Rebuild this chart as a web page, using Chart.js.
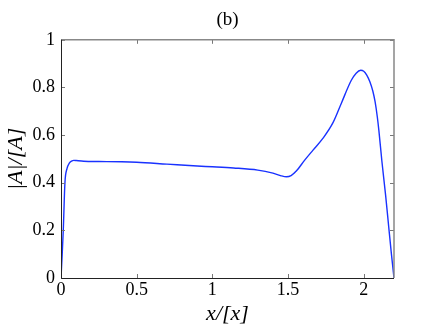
<!DOCTYPE html>
<html>
<head>
<meta charset="utf-8">
<script src="https://cdn.jsdelivr.net/npm/chart.js@4.4.1/dist/chart.umd.min.js"></script>
<style>
html,body{margin:0;padding:0;background:#fff;}
#wrap{width:436px;height:328px;position:relative;}
</style>
</head>
<body>
<div id="wrap"><canvas id="c" width="436" height="328"></canvas></div>
<script>
const xValues = [0, 0.008, 0.015, 0.026, 0.04, 0.055, 0.07, 0.085, 0.1, 0.15, 0.25, 0.4, 0.5, 0.7, 0.9, 1.0, 1.14, 1.3, 1.4, 1.45, 1.49, 1.52, 1.556, 1.61, 1.665, 1.73, 1.797, 1.853, 1.918, 1.95, 1.98, 2.0, 2.02, 2.04, 2.06, 2.075, 2.09, 2.1, 2.12, 2.145, 2.165, 2.183, 2.2];
const yValues = [0, 0.1, 0.2, 0.4, 0.46, 0.482, 0.491, 0.494, 0.493, 0.49, 0.489, 0.488, 0.486, 0.478, 0.47, 0.467, 0.462, 0.453, 0.44, 0.43, 0.425, 0.43, 0.45, 0.495, 0.537, 0.586, 0.652, 0.735, 0.83, 0.86, 0.872, 0.868, 0.852, 0.825, 0.785, 0.74, 0.675, 0.62, 0.49, 0.345, 0.215, 0.1, 0];
const xTicks = [0, 0.5, 1, 1.5, 2];
const yTicks = [0, 0.2, 0.4, 0.6, 0.8, 1];
const titleText = '(b)';
const xLabel = 'x/[x]';
const yLabel = '|A|/[A]';

const points = xValues.map((x, i) => ({x: x, y: yValues[i]}));

const boxPlugin = {
  id: 'box',
  afterDraw(chart) {
    const ctx = chart.ctx;
    const a = chart.chartArea;
    const xs = chart.scales.x, ys = chart.scales.y;
    ctx.save();
    ctx.lineWidth = 1;
    ctx.strokeStyle = '#777';
    const L = 4;
    xTicks.forEach(v => {
      const px = Math.round(xs.getPixelForValue(v)) + 0.5;
      ctx.beginPath();
      ctx.moveTo(px, a.bottom); ctx.lineTo(px, a.bottom - L);
      ctx.moveTo(px, a.top); ctx.lineTo(px, a.top + L);
      ctx.stroke();
    });
    yTicks.forEach(v => {
      const py = Math.round(ys.getPixelForValue(v)) + 0.5;
      ctx.beginPath();
      ctx.moveTo(a.left, py); ctx.lineTo(a.left + L, py);
      ctx.moveTo(a.right, py); ctx.lineTo(a.right - L, py);
      ctx.stroke();
    });
    ctx.strokeStyle = '#888';
    ctx.lineWidth = 1.5;
    ctx.beginPath();
    ctx.moveTo(a.left, a.top); ctx.lineTo(a.right, a.top); ctx.lineTo(a.right, a.bottom);
    ctx.stroke();
    ctx.strokeStyle = '#222';
    ctx.lineWidth = 1;
    ctx.beginPath();
    ctx.moveTo(Math.round(a.left) + 0.5, a.top); ctx.lineTo(Math.round(a.left) + 0.5, Math.round(a.bottom) + 0.5); ctx.lineTo(a.right, Math.round(a.bottom) + 0.5);
    ctx.stroke();
    ctx.restore();
  }
};

new Chart(document.getElementById('c'), {
  type: 'line',
  data: {
    datasets: [{
      data: points,
      borderColor: 'rgb(25,50,255)',
      borderWidth: 1.4,
      pointRadius: 0,
      fill: false,
      cubicInterpolationMode: 'monotone'
    }]
  },
  options: {
    responsive: false,
    animation: false,
    devicePixelRatio: 1,
    layout: {padding: {left: 0, right: 42, top: 0, bottom: 0}},
    plugins: {
      legend: {display: false},
      tooltip: {enabled: false},
      title: {
        display: true,
        fullSize: false,
        text: titleText,
        color: '#000',
        font: {family: 'Liberation Serif', size: 19, weight: 'normal'},
        padding: {top: 9, bottom: 8}
      }
    },
    scales: {
      x: {
        type: 'linear',
        min: 0, max: 2.2,
        afterBuildTicks: s => { s.ticks = xTicks.map(v => ({value: v})); },
        afterFit: s => { s.height = 50; },
        grid: {display: false, drawTicks: false},
        border: {display: false},
        ticks: {
          color: '#000',
          padding: 1,
          maxRotation: 0,
          font: {family: 'Liberation Serif', size: 18},
          callback: v => String(v)
        },
        title: {
          display: true,
          text: xLabel,
          color: '#000',
          font: {family: 'Liberation Serif', size: 22, style: 'italic'},
          padding: {top: 1, bottom: 1}
        }
      },
      y: {
        type: 'linear',
        min: 0, max: 1,
        afterBuildTicks: s => { s.ticks = yTicks.map(v => ({value: v})); },
        afterFit: s => { s.width = 61; },
        grid: {display: false, drawTicks: false},
        border: {display: false},
        ticks: {
          color: '#000',
          padding: 6,
          font: {family: 'Liberation Serif', size: 18},
          callback: v => String(v)
        },
        title: {
          display: true,
          text: yLabel,
          color: '#000',
          font: {family: 'Liberation Serif', size: 22, style: 'italic'},
          padding: {top: 3, bottom: 0}
        }
      }
    }
  },
  plugins: [boxPlugin]
});
</script>
</body>
</html>
